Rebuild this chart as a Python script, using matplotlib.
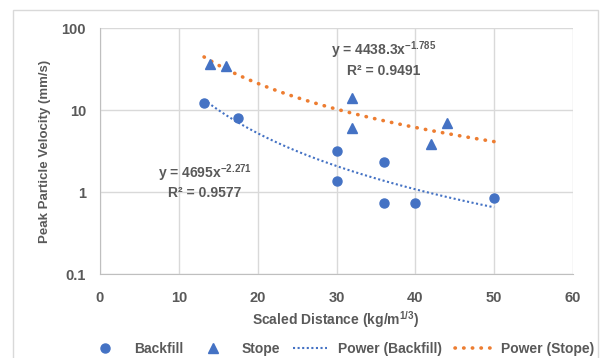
import numpy as np
import matplotlib.pyplot as plt
from matplotlib.patches import Rectangle

plt.rcParams['font.family'] = ['Liberation Sans', 'DejaVu Sans']
plt.rcParams['mathtext.default'] = 'regular'

# data
backfill_x = [13.2, 17.5, 30, 30, 36, 36, 40, 50]
backfill_y = [12.2, 8.0, 3.2, 1.38, 2.35, 0.74, 0.74, 0.85]
stope_x = [14, 16, 32, 32, 42, 44]
stope_y = [36, 34.5, 14, 6.0, 3.8, 7.0]

# trendline coefficients as given on the chart
bf_a, bf_b = 4695, -2.271
st_a, st_b = 4438.3, -1.785

blue = '#4472C4'
orange = '#ED7D31'
grey = '#595959'

W, H = 600, 358
fig = plt.figure(figsize=(6, 3.58), dpi=100)
ax = fig.add_axes([100 / W, 1 - 274 / H, 473 / W, 246 / H])

fig.patches.append(Rectangle((13 / W, -0.01), 585 / W, 1 - 10 / H + 0.01,
                             transform=fig.transFigure, fill=False,
                             edgecolor='#D9D9D9', lw=1))

xs = np.linspace(min(backfill_x), 50, 100)
ax.plot(backfill_x, backfill_y, 'o', color=blue, ms=6.5, label='Backfill', zorder=3)
ax.plot(stope_x, stope_y, '^', color=blue, ms=6.5, label='Stope', zorder=3)
ax.plot(xs, bf_a * xs ** bf_b, color=blue, lw=1.5, ls=(0, (1, 1.2)),
        label='Power (Backfill)', zorder=2)
ax.plot(xs, st_a * xs ** st_b, color=orange, lw=2.6, ls=(0, (0.1, 2.3)),
        dash_capstyle='round', label='Power (Stope)', zorder=2)

ax.set_yscale('log')
ax.set_xlim(0, 60)
ax.set_ylim(0.1, 100)
ax.set_xticks(range(0, 61, 10))
ax.set_yticks([0.1, 1, 10, 100])
ax.set_yticklabels(['0.1', '1', '10', '100'])
ax.minorticks_off()
ax.grid(True, color='#D9D9D9', lw=1)
ax.set_axisbelow(True)
for s in ['top', 'right']:
    ax.spines[s].set_visible(False)
for s in ['left', 'bottom']:
    ax.spines[s].set_color('#BFBFBF')
ax.tick_params(length=0, labelsize=10.5, labelcolor=grey)
ax.tick_params(axis='x', pad=12)
ax.tick_params(axis='y', pad=10)
for lab in ax.get_xticklabels() + ax.get_yticklabels():
    lab.set_fontweight('bold')

fig.text(336 / W, 1 - 320 / H, 'Scaled Distance (kg/m$^{1/3}$)', fontsize=10,
         color=grey, fontweight='bold', ha='center', va='center')
fig.text(45 / W, 1 - 151 / H, 'Peak Particle Velocity (mm/s)', fontsize=9.5,
         color=grey, fontweight='bold', ha='center', va='center', rotation=90)

def label(x, y, s):
    fig.text(x / W, 1 - y / H, s, fontsize=10, color=grey, fontweight='bold',
             ha='center', va='center')

label(384, 50, 'y = 4438.3x$^{-1.785}$')
label(384, 71, 'R² = 0.9491')
label(205, 173, 'y = 4695x$^{-2.271}$')
label(205, 193, 'R² = 0.9577')

leg = fig.legend(loc='center', bbox_to_anchor=(341 / W, 1 - 349 / H), ncol=4,
                 frameon=False, fontsize=10, handlelength=2.5, columnspacing=0.9)
for t in leg.get_texts():
    t.set_color(grey)
    t.set_fontweight('bold')

fig.savefig('out.png', dpi=100)
